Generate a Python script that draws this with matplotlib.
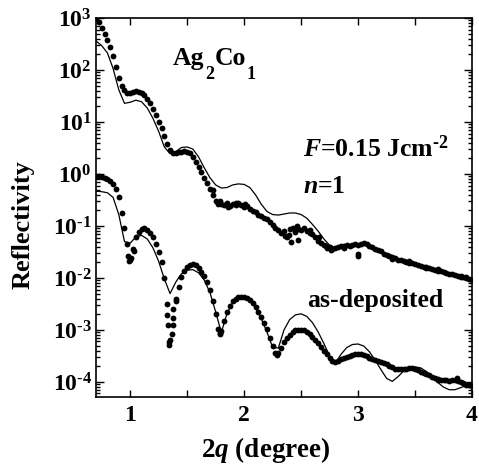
import numpy as np
import matplotlib.pyplot as plt
from matplotlib.ticker import MultipleLocator, LogLocator, FixedLocator, NullFormatter, FuncFormatter

plt.rcParams['font.family'] = ['Liberation Serif', 'DejaVu Serif']
plt.rcParams['font.weight'] = 'bold'
plt.rcParams['mathtext.fontset'] = 'custom'
plt.rcParams['mathtext.rm'] = 'Liberation Serif:bold'
plt.rcParams['mathtext.bf'] = 'Liberation Serif:bold'
plt.rcParams['mathtext.it'] = 'Liberation Serif:italic:bold'

# --- data (log10 of reflectivity) ---
# F=0.15 Jcm-2, n=1 : measured, x = 0.700 ... 4.000 step 0.025
upper_x = np.arange(0.7, 4.0001, 0.025)
upper_log = [
    3.00, 2.92, 2.80, 2.70, 2.58, 2.45, 2.27, 2.05, 1.85, 1.70,
    1.62, 1.56, 1.56, 1.58, 1.59, 1.58, 1.56, 1.52, 1.45, 1.37,
    1.26, 1.13, 1.00, 0.88, 0.74, 0.58, 0.46, 0.40, 0.40, 0.42,
    0.43, 0.44, 0.43, 0.40, 0.33, 0.24, 0.13, 0.03, -0.08, -0.18,
    -0.28, -0.40, -0.52, -0.58, -0.57, -0.60, -0.56, -0.61, -0.57, -0.60,
    -0.55, -0.60, -0.63, -0.62, -0.68, -0.71, -0.74, -0.78, -0.80, -0.85,
    -0.87, -0.93, -0.98, -1.04, -1.08, -1.14, -1.10, -1.22, -1.05, -1.03,
    -1.12, -1.05, -1.07, -1.04, -1.10, -1.13, -1.16, -1.22, -1.28, -1.33,
    -1.36, -1.43, -1.40, -1.45, -1.42, -1.40, -1.38, -1.39, -1.37, -1.38,
    -1.36, -1.35, -1.36, -1.34, -1.33, -1.35, -1.38, -1.41, -1.44, -1.47,
    -1.49, -1.53, -1.55, -1.58, -1.60, -1.62, -1.65, -1.66, -1.68, -1.69,
    -1.71, -1.72, -1.73, -1.75, -1.77, -1.78, -1.80, -1.81, -1.83, -1.84,
    -1.86, -1.87, -1.89, -1.91, -1.92, -1.93, -1.95, -1.96, -1.97, -1.99,
    -2.00, -2.02, -2.03,
]
upper_extra_x = [1.73, 1.79, 1.86, 1.93, 2.01, 2.36, 2.39, 2.41, 2.46, 2.47,
                 2.58, 2.66, 2.72, 2.76, 2.88, 3.00, 3.00, 3.30, 3.45, 3.60,
                 3.70, 3.90, 3.95]
upper_extra_log = [-0.30, -0.52, -0.63, -0.55, -0.58, -1.20, -1.17, -1.30, -1.00, -1.27,
                   -1.08, -1.22, -1.38, -1.47, -1.42, -1.53, -1.58, -1.63, -1.68, -1.78,
                   -1.83, -1.99, -1.98]

# F=0.15 Jcm-2, n=1 : fit, x step 0.05
upper_fit_x = np.arange(0.7, 4.0001, 0.05)
upper_fit_log = [
    2.56, 2.47, 2.33, 2.03, 1.62, 1.36, 1.38, 1.42, 1.39, 1.27,
    1.07, 0.82, 0.52, 0.39, 0.43, 0.51, 0.52, 0.48, 0.33, 0.12,
    -0.07, -0.21, -0.27, -0.26, -0.21, -0.19, -0.20, -0.26, -0.40, -0.58,
    -0.72, -0.78, -0.79, -0.77, -0.75, -0.75, -0.78, -0.85, -0.97, -1.10,
    -1.25, -1.37, -1.43, -1.42, -1.39, -1.36, -1.34, -1.34, -1.37, -1.42,
    -1.48, -1.54, -1.59, -1.63, -1.67, -1.70, -1.73, -1.76, -1.79, -1.82,
    -1.85, -1.88, -1.91, -1.94, -1.97, -2.00, -2.03,
]

# as-deposited : measured
lower_x = np.arange(0.7, 4.0001, 0.025)
lower_log = [
    -0.03, -0.04, -0.05, -0.07, -0.10, -0.14, -0.19, -0.28, -0.45, -0.75,
    -1.04, -1.35, -1.66, -1.45, -1.22, -1.11, -1.05, -1.04, -1.07, -1.13,
    -1.22, -1.34, -1.50, -1.70, -2.00, -2.50, -3.20, -2.90, -2.45, -2.17,
    -1.98, -1.87, -1.79, -1.75, -1.74, -1.76, -1.81, -1.88, -1.97, -2.08,
    -2.24, -2.45, -2.70, -2.98, -3.02, -2.82, -2.65, -2.53, -2.45, -2.40,
    -2.37, -2.36, -2.37, -2.39, -2.42, -2.48, -2.56, -2.65, -2.75, -2.86,
    -2.99, -3.15, -3.30, -3.44, -3.45, -3.34, -3.24, -3.15, -3.09, -3.04,
    -3.01, -3.00, -3.00, -3.01, -3.03, -3.07, -3.13, -3.19, -3.26, -3.33,
    -3.40, -3.47, -3.54, -3.59, -3.62, -3.60, -3.56, -3.53, -3.52, -3.50,
    -3.48, -3.47, -3.46, -3.46, -3.48, -3.51, -3.53, -3.56, -3.58, -3.60,
    -3.62, -3.64, -3.66, -3.69, -3.72, -3.75, -3.76, -3.76, -3.75, -3.75,
    -3.74, -3.74, -3.75, -3.77, -3.80, -3.82, -3.85, -3.87, -3.90, -3.92,
    -3.95, -3.96, -3.97, -3.96, -3.98, -3.96, -3.97, -3.99, -4.01, -4.03,
    -4.05, -4.06, -4.08,
]
lower_extra_x = [0.98, 0.99, 1.01, 1.03, 1.32, 1.33, 1.34, 1.345, 1.37, 1.38,
                 1.38, 1.40, 1.785, 1.79, 2.29, 3.70, 3.87]
lower_extra_log = [-1.58, -1.68, -1.62, -1.49, -2.71, -2.90, -3.23, -3.29, -3.07, -2.59,
                   -2.77, -2.40, -3.05, -3.07, -3.48, -3.97, -3.92]

# as-deposited : fit
lower_fit_x = np.arange(0.7, 4.0001, 0.05)
lower_fit_log = [
    -0.33, -0.34, -0.36, -0.45, -0.78, -1.30, -1.33, -1.21, -1.18, -1.25,
    -1.42, -1.68, -2.02, -2.30, -2.08, -1.92, -1.85, -1.84, -1.90, -2.04,
    -2.28, -2.65, -3.05, -2.68, -2.47, -2.38, -2.37, -2.43, -2.57, -2.78,
    -3.04, -3.33, -3.35, -3.00, -2.80, -2.71, -2.69, -2.74, -2.86, -3.04,
    -3.26, -3.50, -3.64, -3.47, -3.34, -3.28, -3.27, -3.31, -3.42, -3.58,
    -3.76, -3.93, -3.99, -3.90, -3.79, -3.73, -3.71, -3.73, -3.80, -3.90,
    -4.01, -4.10, -4.15, -4.15, -4.11, -4.07, -4.05,
]

fig = plt.figure(figsize=(4.79, 4.69), dpi=100)
ax = fig.add_axes([0.2004, 0.1535, 0.785, 0.808])

dot = dict(ls='none', marker='o', ms=4.2, mfc='k', mec='k', mew=0, zorder=3)
ax.plot(upper_x, 10 ** np.array(upper_log), **dot)
ax.plot(upper_extra_x, 10 ** np.array(upper_extra_log), **dot)
ax.plot(lower_x, 10 ** np.array(lower_log), **dot)
ax.plot(lower_extra_x, 10 ** np.array(lower_extra_log), **dot)
ax.plot(upper_fit_x, 10 ** np.array(upper_fit_log), color='k', lw=0.9, zorder=2)
ax.plot(lower_fit_x, 10 ** np.array(lower_fit_log), color='k', lw=0.9, zorder=2)

ax.set_yscale('log')
ax.set_xlim(0.7, 4.0)
ax.set_ylim(10 ** -4.29, 1e3)

ax.xaxis.set_major_locator(MultipleLocator(1))
ax.xaxis.set_minor_locator(MultipleLocator(0.5))
ax.xaxis.set_major_formatter(FuncFormatter(lambda v, p: '%d' % v))
ax.yaxis.set_major_locator(FixedLocator([10.0 ** k for k in range(-4, 4)]))
ax.yaxis.set_minor_locator(LogLocator(base=10, subs=np.arange(2, 10), numticks=20))
ax.yaxis.set_minor_formatter(NullFormatter())
# hyphen (U+2010) instead of a long minus, as in the original labels
ax.yaxis.set_major_formatter(FuncFormatter(
    lambda v, p: r'$10^{%s}$' % str(int(round(np.log10(v)))).replace('-', '\u2010')))

ax.tick_params(which='both', direction='in', top=True, right=True, labelsize=17, width=1.0)
ax.tick_params(axis='x', which='both', length=5, pad=6)
ax.tick_params(axis='y', which='major', length=6, pad=3)
ax.tick_params(axis='y', which='minor', length=3)
for s in ax.spines.values():
    s.set_linewidth(1.2)

# Ag2Co1 with low-set subscripts, built piece by piece
renderer = fig.canvas.get_renderer()
W, H = fig.bbox.width, fig.bbox.height
xpx, base = 173.0, 469 - 65.0
for s, sub in [('Ag', False), ('2', True), ('Co', False), ('1', True)]:
    yb = base - 14 if sub else base
    t = fig.text(xpx / W, yb / H, s, fontsize=13 if sub else 18.5, va='baseline')
    xpx = t.get_window_extent(renderer).x1 + 0.5

ax.text(0.551, 0.633, '$\\mathit{F}$=0.15 Jcm$^{\u20102}$', transform=ax.transAxes, fontsize=18.5, va='baseline')
ax.text(0.551, 0.538, r'$\mathit{n}$=1', transform=ax.transAxes, fontsize=18.5, va='baseline')
ax.text(0.561, 0.237, 'as-deposited', transform=ax.transAxes, fontsize=18.5, va='baseline')

fig.text(0.048, 0.522, 'Reflectivity', rotation=90, ha='center', va='center', fontsize=19)
fig.text(0.555, 0.0405, r'2$\mathit{q}$ (degree)', ha='center', va='center', fontsize=19.5)

fig.savefig('out.png', dpi=100)
